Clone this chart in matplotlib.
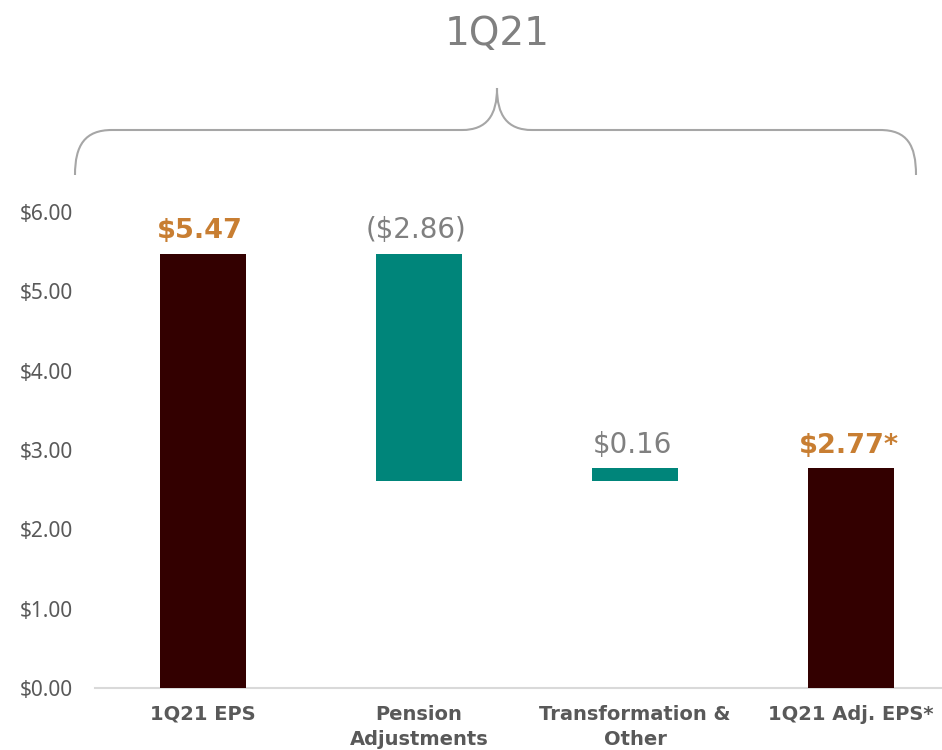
#!/usr/bin/env python
# coding=utf-8
"""
1Q21 EPS bridge (waterfall) chart
"""

import matplotlib
matplotlib.use('Agg')
import matplotlib.pyplot as plt
from matplotlib.path import Path
from matplotlib.patches import PathPatch

#  Data
categories = ['1Q21 EPS', 'Pension\nAdjustments', 'Transformation &\nOther',
              '1Q21 Adj. EPS*']
start_value = 5.47
adjustments = [-2.86, 0.16]
end_value = 2.77
value_labels = ['$5.47', '($2.86)', '$0.16', '$2.77*']
y_ticks = [0, 1, 2, 3, 4, 5, 6]
y_tick_labels = ['$0.00', '$1.00', '$2.00', '$3.00', '$4.00', '$5.00',
                 '$6.00']
title = '1Q21'

dark = '#330000'
teal = '#00857A'
orange = '#C87E32'
gray_lbl = '#808080'
tick_col = '#595959'

W, H = 942, 750


def px(x, y):
    """Pixel position (from top-left) to figure fraction"""
    return x / W, 1 - y / H


fig = plt.figure(figsize=(W / 100, H / 100), dpi=100)
ax = fig.add_axes([95 / W, 1 - 688 / H, 1 - 95 / W, (688 - 212) / H])

#  Waterfall bars
bottoms = [0]
heights = [start_value]
running = start_value
for adj in adjustments:
    new = running + adj
    bottoms.append(min(running, new))
    heights.append(abs(adj))
    running = new
bottoms.append(0)
heights.append(end_value)
colors = [dark, teal, teal, dark]

xs = list(range(len(categories)))
ax.bar(xs, heights, bottom=bottoms, width=0.40, color=colors, zorder=3)

#  Value labels
tops = [b + h for b, h in zip(bottoms, heights)]
for i, (x, top, lbl) in enumerate(zip(xs, tops, value_labels)):
    if i in (0, len(xs) - 1):
        ax.annotate(lbl, (x, top), xytext=(-2, 7), textcoords='offset points',
                    ha='center', va='bottom', fontsize=19.5,
                    fontweight='bold', color=orange)
    else:
        ax.annotate(lbl, (x, top), xytext=(-2, 7), textcoords='offset points',
                    ha='center', va='bottom', fontsize=20, color=gray_lbl)

ax.set_xlim(-0.5, 3.42)
ax.set_ylim(0, 6)
ax.set_yticks(y_ticks)
ax.set_yticklabels(y_tick_labels, fontfamily='Noto Sans', fontsize=15,
                   color=tick_col)
ax.set_xticks(xs)
ax.set_xticklabels(categories, fontsize=14, fontweight='bold',
                   color=tick_col, linespacing=1.45)
ax.tick_params(axis='both', length=0)
ax.tick_params(axis='y', pad=16)
ax.tick_params(axis='x', pad=12)
for side in ['top', 'right', 'left']:
    ax.spines[side].set_visible(False)
ax.spines['bottom'].set_color('#D9D9D9')
ax.spines['bottom'].set_linewidth(1.5)

#  Curly bracket above the bars
pts = [(75, 175), (75, 145), (85, 130), (112, 130),
       (462, 130),
       (487, 130), (497, 115), (497, 88),
       (497, 115), (507, 130), (532, 130),
       (880, 130),
       (907, 130), (916, 145), (916, 175)]
codes = [Path.MOVETO, Path.CURVE4, Path.CURVE4, Path.CURVE4,
         Path.LINETO,
         Path.CURVE4, Path.CURVE4, Path.CURVE4,
         Path.CURVE4, Path.CURVE4, Path.CURVE4,
         Path.LINETO,
         Path.CURVE4, Path.CURVE4, Path.CURVE4]
brace = Path([px(x, y) for x, y in pts], codes)
fig.patches.append(PathPatch(brace, transform=fig.transFigure,
                             facecolor='none', edgecolor='#A6A6A6', lw=1.5))

tx, ty = px(497, 34)
fig.text(tx, ty, title, ha='center', va='center', fontsize=28,
         color=gray_lbl)

fig.savefig('out.png', dpi=100)
